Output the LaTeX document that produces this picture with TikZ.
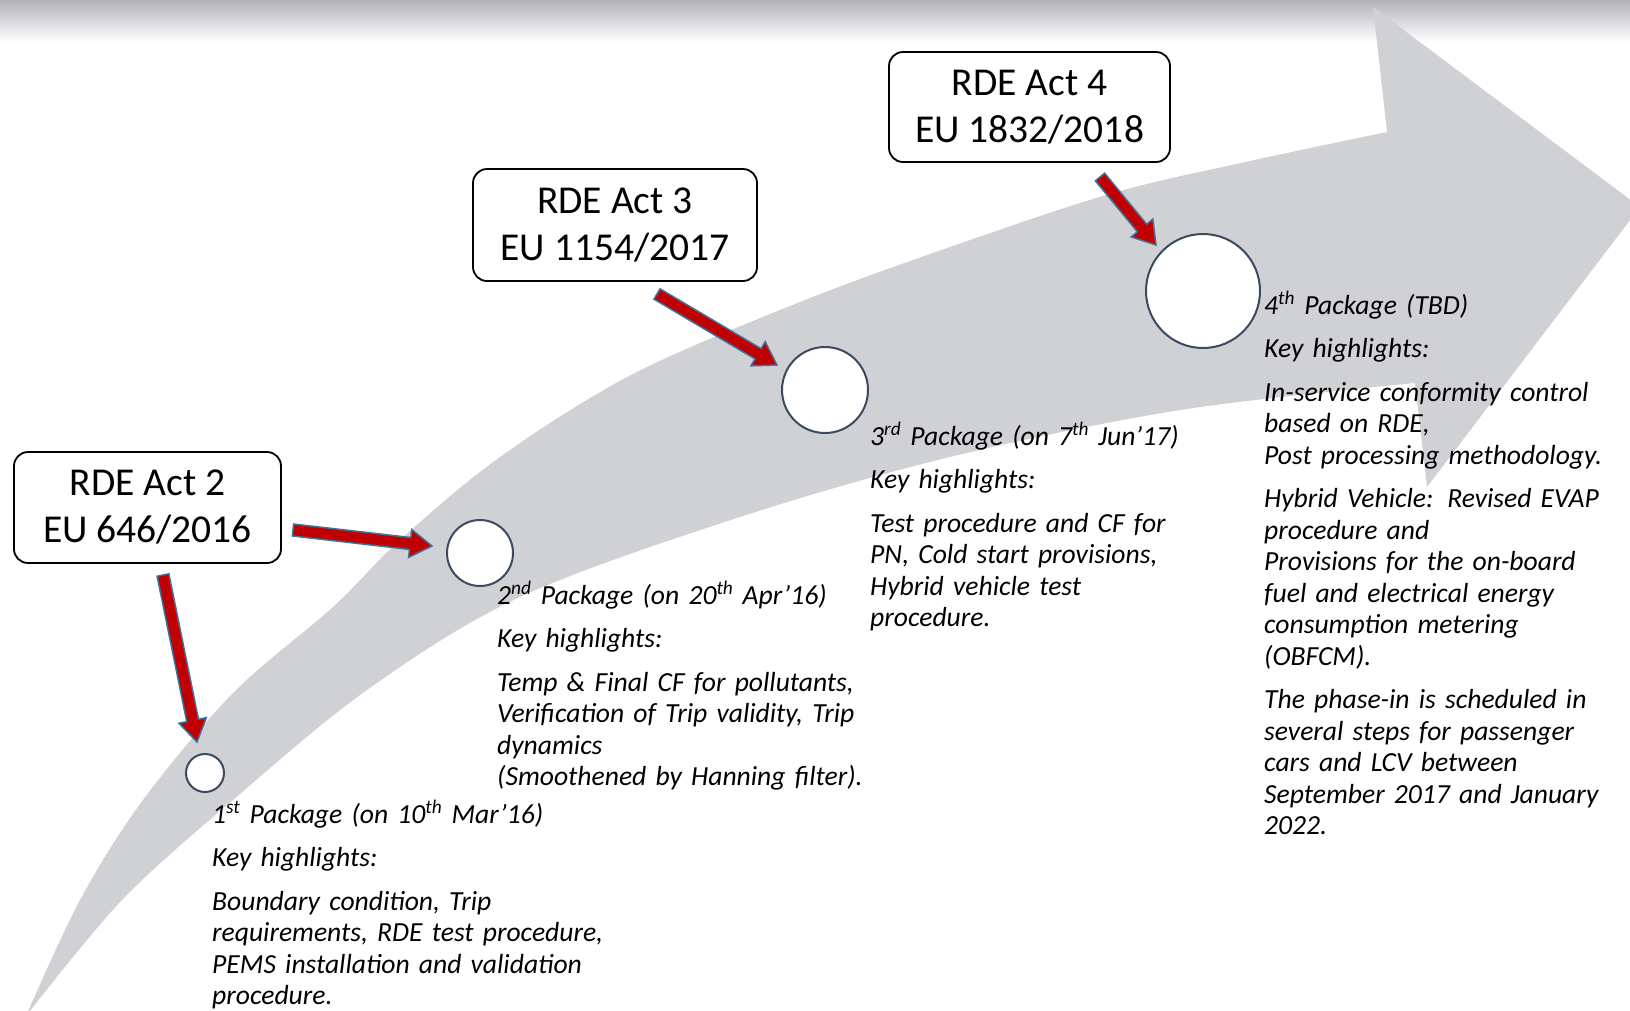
\documentclass[tikz,border=0pt]{standalone}
\usepackage{fontspec}
\setmainfont{Carlito}
\usetikzlibrary{calc}
\definecolor{bandgray}{RGB}{208,209,213}
\definecolor{arrred}{RGB}{192,0,0}
\definecolor{arredge}{RGB}{65,113,156}
\definecolor{circedge}{RGB}{60,74,96}
\definecolor{topgray}{RGB}{178,178,184}
\definecolor{midgray}{RGB}{232,232,235}
\tikzset{
  actbox/.style={draw=black, line width=1.8pt, rounded corners=14pt, fill=white, align=center,
    font=\fontsize{39.5}{47}\selectfont, inner sep=0pt},
  pkgcircle/.style={circle, draw=circedge, line width=2pt, fill=white, inner sep=0pt},
  pkgtext/.style={anchor=base west, align=left, inner sep=0pt, text width=440pt,
    font=\fontsize{27.6}{31.5}\itshape\selectfont},
  redarrow/.style={fill=arrred, draw=arredge, line width=1.5pt, line join=miter}
}
\newcommand\rdearrow[2]{%
  \path ($(#2)!22pt!(#1)$) coordinate (bh);
  \filldraw[redarrow] ($(#1)!6pt!90:(#2)$) -- ($(bh)!6pt!90:(#2)$) -- ($(bh)!14pt!90:(#2)$)
    -- (#2) -- ($(bh)!14pt!-90:(#2)$) -- ($(bh)!6pt!-90:(#2)$) -- ($(#1)!6pt!-90:(#2)$) -- cycle;
}
\begin{document}
\begin{tikzpicture}[x=1pt,y=-1pt]
\useasboundingbox (0,0) rectangle (1630,1010);
\clip (0,0) rectangle (1630,1010);
\fill[white] (0,0) rectangle (1630,1010);
% top gradient
\shade[top color=topgray, middle color=midgray, bottom color=white] (0,0) rectangle (1630,42);
% big curved arrow
\fill[bandgray] plot[smooth, tension=0.55] coordinates {(26,1016) (80,900) (143,800) (233,693) (333,607) (400,540) (500,457) (633,374) (800,302) (950,247) (1113,193) (1250,161) (1387,132)}
  -- (1373,7) -- (1640,207) -- (1427,487) -- (1415,383)
  -- plot[smooth, tension=0.55] coordinates {(1415,383) (1180,410) (950,457) (740,517) (520,597) (367,690) (233,800) (122,900) (26,1016)} -- cycle;
% boxes
\node[actbox, minimum width=267pt, minimum height=111pt] (act2) at (147.5,507.5) {\rule{0pt}{4pt}RDE Act 2\\EU 646/2016};
\node[actbox, minimum width=284pt, minimum height=112pt] (act3) at (615,225) {RDE Act 3\\EU 1154/2017};
\node[actbox, minimum width=281pt, minimum height=110pt] (act4) at (1029.5,107) {RDE Act 4\\EU 1832/2018};
% circles
\node[pkgcircle, minimum size=38pt] (c1) at (205,773) {};
\node[pkgcircle, minimum size=66pt] (c2) at (480,553) {};
\node[pkgcircle, minimum size=86pt] (c3) at (825,390) {};
\node[pkgcircle, minimum size=114pt] (c4) at (1203,291) {};
% arrow end points
\coordinate (a2s) at (163,575); \coordinate (a2e) at (197,742);
\coordinate (b2s) at (293,530); \coordinate (b2e) at (432,546);
\coordinate (a3s) at (657,294); \coordinate (a3e) at (777,365);
\coordinate (a4s) at (1100,177); \coordinate (a4e) at (1156,245);
\rdearrow{a2s}{a2e}
\rdearrow{b2s}{b2e}
\rdearrow{a3s}{a3e}
\rdearrow{a4s}{a4e}
% texts
\node[pkgtext] (t1) at (212,823) {1\textsuperscript{st} Package (on 10\textsuperscript{th} Mar’16)\\[12pt]
Key highlights:\\[12pt]
Boundary condition, Trip\\
requirements, RDE test procedure,\\
PEMS installation and validation\\
procedure.};
\node[pkgtext] (t2) at (497,604) {2\textsuperscript{nd} Package (on 20\textsuperscript{th} Apr’16)\\[12pt]
Key highlights:\\[12pt]
Temp \& Final CF for pollutants,\\
Verification of Trip validity, Trip\\
dynamics\\
(Smoothened by Hanning filter).};
\node[pkgtext] (t3) at (870,445) {3\textsuperscript{rd} Package (on 7\textsuperscript{th} Jun’17)\\[12pt]
Key highlights:\\[12pt]
Test procedure and CF for\\
PN, Cold start provisions,\\
Hybrid vehicle test\\
procedure.};
\node[pkgtext] (t4) at (1264,314) {4\textsuperscript{th} Package (TBD)\\[12pt]
Key highlights:\\[12pt]
In-service conformity control\\
based on RDE,\\
Post processing methodology.\\[12pt]
Hybrid Vehicle: Revised EVAP\\
procedure and\\
Provisions for the on-board\\
fuel and electrical energy\\
consumption metering\\
(OBFCM).\\[12pt]
The phase-in is scheduled in\\
several steps for passenger\\
cars and LCV between\\
September 2017 and January\\
2022.};
\end{tikzpicture}
\end{document}
